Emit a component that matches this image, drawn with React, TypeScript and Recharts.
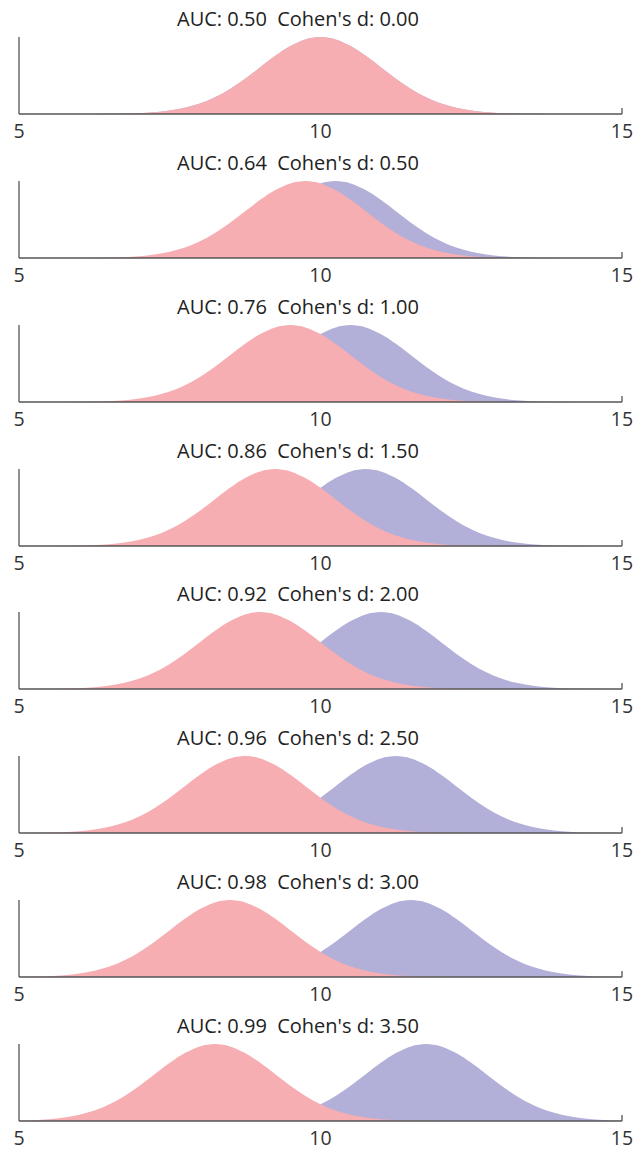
import { AreaChart, Area, XAxis, YAxis } from 'recharts';

// x grid shared by every panel
const xs = [
  5, 5.25, 5.5, 5.75, 6, 6.25, 6.5, 6.75, 7, 7.25, 7.5, 7.75, 8, 8.25, 8.5, 8.75, 9, 9.25, 9.5, 9.75,
  10, 10.25, 10.5, 10.75, 11, 11.25, 11.5, 11.75, 12, 12.25, 12.5, 12.75, 13, 13.25, 13.5, 13.75, 14,
  14.25, 14.5, 14.75, 15,
];

const aucLabels = ['0.50', '0.64', '0.76', '0.86', '0.92', '0.96', '0.98', '0.99'];
const dLabels = ['0.00', '0.50', '1.00', '1.50', '2.00', '2.50', '3.00', '3.50'];
const xTicks = [5, 10, 15];

// pink group (relative density, peak = 1)
const a0 = [0, 0, 0, 0, 0, 0.001, 0.002, 0.005, 0.011, 0.023, 0.044, 0.08, 0.135, 0.216, 0.325, 0.458, 0.607, 0.755, 0.882, 0.969, 1, 0.969, 0.882, 0.755, 0.607, 0.458, 0.325, 0.216, 0.135, 0.08, 0.044, 0.023, 0.011, 0.005, 0.002, 0.001, 0, 0, 0, 0, 0];
const a1 = [0, 0, 0, 0, 0.001, 0.002, 0.005, 0.011, 0.023, 0.044, 0.08, 0.135, 0.216, 0.325, 0.458, 0.607, 0.755, 0.882, 0.969, 1, 0.969, 0.882, 0.755, 0.607, 0.458, 0.325, 0.216, 0.135, 0.08, 0.044, 0.023, 0.011, 0.005, 0.002, 0.001, 0, 0, 0, 0, 0, 0];
const a2 = [0, 0, 0, 0.001, 0.002, 0.005, 0.011, 0.023, 0.044, 0.08, 0.135, 0.216, 0.325, 0.458, 0.607, 0.755, 0.882, 0.969, 1, 0.969, 0.882, 0.755, 0.607, 0.458, 0.325, 0.216, 0.135, 0.08, 0.044, 0.023, 0.011, 0.005, 0.002, 0.001, 0, 0, 0, 0, 0, 0, 0];
const a3 = [0, 0, 0.001, 0.002, 0.005, 0.011, 0.023, 0.044, 0.08, 0.135, 0.216, 0.325, 0.458, 0.607, 0.755, 0.882, 0.969, 1, 0.969, 0.882, 0.755, 0.607, 0.458, 0.325, 0.216, 0.135, 0.08, 0.044, 0.023, 0.011, 0.005, 0.002, 0.001, 0, 0, 0, 0, 0, 0, 0, 0];
const a4 = [0, 0.001, 0.002, 0.005, 0.011, 0.023, 0.044, 0.08, 0.135, 0.216, 0.325, 0.458, 0.607, 0.755, 0.882, 0.969, 1, 0.969, 0.882, 0.755, 0.607, 0.458, 0.325, 0.216, 0.135, 0.08, 0.044, 0.023, 0.011, 0.005, 0.002, 0.001, 0, 0, 0, 0, 0, 0, 0, 0, 0];
const a5 = [0.001, 0.002, 0.005, 0.011, 0.023, 0.044, 0.08, 0.135, 0.216, 0.325, 0.458, 0.607, 0.755, 0.882, 0.969, 1, 0.969, 0.882, 0.755, 0.607, 0.458, 0.325, 0.216, 0.135, 0.08, 0.044, 0.023, 0.011, 0.005, 0.002, 0.001, 0, 0, 0, 0, 0, 0, 0, 0, 0, 0];
const a6 = [0.002, 0.005, 0.011, 0.023, 0.044, 0.08, 0.135, 0.216, 0.325, 0.458, 0.607, 0.755, 0.882, 0.969, 1, 0.969, 0.882, 0.755, 0.607, 0.458, 0.325, 0.216, 0.135, 0.08, 0.044, 0.023, 0.011, 0.005, 0.002, 0.001, 0, 0, 0, 0, 0, 0, 0, 0, 0, 0, 0];
const a7 = [0.005, 0.011, 0.023, 0.044, 0.08, 0.135, 0.216, 0.325, 0.458, 0.607, 0.755, 0.882, 0.969, 1, 0.969, 0.882, 0.755, 0.607, 0.458, 0.325, 0.216, 0.135, 0.08, 0.044, 0.023, 0.011, 0.005, 0.002, 0.001, 0, 0, 0, 0, 0, 0, 0, 0, 0, 0, 0, 0];

// purple group
const b0 = [0, 0, 0, 0, 0, 0.001, 0.002, 0.005, 0.011, 0.023, 0.044, 0.08, 0.135, 0.216, 0.325, 0.458, 0.607, 0.755, 0.882, 0.969, 1, 0.969, 0.882, 0.755, 0.607, 0.458, 0.325, 0.216, 0.135, 0.08, 0.044, 0.023, 0.011, 0.005, 0.002, 0.001, 0, 0, 0, 0, 0];
const b1 = [0, 0, 0, 0, 0, 0, 0.001, 0.002, 0.005, 0.011, 0.023, 0.044, 0.08, 0.135, 0.216, 0.325, 0.458, 0.607, 0.755, 0.882, 0.969, 1, 0.969, 0.882, 0.755, 0.607, 0.458, 0.325, 0.216, 0.135, 0.08, 0.044, 0.023, 0.011, 0.005, 0.002, 0.001, 0, 0, 0, 0];
const b2 = [0, 0, 0, 0, 0, 0, 0, 0.001, 0.002, 0.005, 0.011, 0.023, 0.044, 0.08, 0.135, 0.216, 0.325, 0.458, 0.607, 0.755, 0.882, 0.969, 1, 0.969, 0.882, 0.755, 0.607, 0.458, 0.325, 0.216, 0.135, 0.08, 0.044, 0.023, 0.011, 0.005, 0.002, 0.001, 0, 0, 0];
const b3 = [0, 0, 0, 0, 0, 0, 0, 0, 0.001, 0.002, 0.005, 0.011, 0.023, 0.044, 0.08, 0.135, 0.216, 0.325, 0.458, 0.607, 0.755, 0.882, 0.969, 1, 0.969, 0.882, 0.755, 0.607, 0.458, 0.325, 0.216, 0.135, 0.08, 0.044, 0.023, 0.011, 0.005, 0.002, 0.001, 0, 0];
const b4 = [0, 0, 0, 0, 0, 0, 0, 0, 0, 0.001, 0.002, 0.005, 0.011, 0.023, 0.044, 0.08, 0.135, 0.216, 0.325, 0.458, 0.607, 0.755, 0.882, 0.969, 1, 0.969, 0.882, 0.755, 0.607, 0.458, 0.325, 0.216, 0.135, 0.08, 0.044, 0.023, 0.011, 0.005, 0.002, 0.001, 0];
const b5 = [0, 0, 0, 0, 0, 0, 0, 0, 0, 0, 0.001, 0.002, 0.005, 0.011, 0.023, 0.044, 0.08, 0.135, 0.216, 0.325, 0.458, 0.607, 0.755, 0.882, 0.969, 1, 0.969, 0.882, 0.755, 0.607, 0.458, 0.325, 0.216, 0.135, 0.08, 0.044, 0.023, 0.011, 0.005, 0.002, 0.001];
const b6 = [0, 0, 0, 0, 0, 0, 0, 0, 0, 0, 0, 0.001, 0.002, 0.005, 0.011, 0.023, 0.044, 0.08, 0.135, 0.216, 0.325, 0.458, 0.607, 0.755, 0.882, 0.969, 1, 0.969, 0.882, 0.755, 0.607, 0.458, 0.325, 0.216, 0.135, 0.08, 0.044, 0.023, 0.011, 0.005, 0.002];
const b7 = [0, 0, 0, 0, 0, 0, 0, 0, 0, 0, 0, 0, 0.001, 0.002, 0.005, 0.011, 0.023, 0.044, 0.08, 0.135, 0.216, 0.325, 0.458, 0.607, 0.755, 0.882, 0.969, 1, 0.969, 0.882, 0.755, 0.607, 0.458, 0.325, 0.216, 0.135, 0.08, 0.044, 0.023, 0.011, 0.005];

const groupA = [a0, a1, a2, a3, a4, a5, a6, a7];
const groupB = [b0, b1, b2, b3, b4, b5, b6, b7];

const PINK = '#F6AEB2';
const PURPLE = '#B2AFD8';
const AXIS = '#555555';
const FONT = '"Open Sans", sans-serif';

const PANEL_W = 634;
const PANEL_H = 144;
const PITCH = 143.85;
const OVERHANG = 10; // svg extends into the next panel so tick labels aren't clipped

function XTick(props: any) {
  const { x, y, payload } = props;
  return (
    <g>
      {payload.value === 15 && (
        <line x1={x} x2={x} y1={y - 8} y2={y - 14} stroke={AXIS} strokeWidth={1.3} />
      )}
      <text x={x} y={y + 16} textAnchor="middle" fill="#333" fontSize={19.5} fontFamily={FONT}>
        {payload.value}
      </text>
    </g>
  );
}

function Panel({ idx }: { idx: number }) {
  const data = xs.map((x, i) => ({ x, a: groupA[idx][i], b: groupB[idx][i] }));
  return (
    <div
      style={{
        position: 'absolute',
        top: Math.round(idx * PITCH),
        left: 0,
        width: PANEL_W,
        height: PANEL_H,
      }}
    >
      <div
        style={{
          position: 'absolute',
          top: 9,
          left: 0,
          width: 596,
          textAlign: 'center',
          fontFamily: FONT,
          fontSize: 20,
          lineHeight: '20px',
          color: '#222',
          whiteSpace: 'pre',
        }}
      >
        {`AUC: ${aucLabels[idx]}  Cohen's d: ${dLabels[idx]}`}
      </div>
      <div style={{ position: 'absolute', top: 0, left: 0 }}>
        <AreaChart
          width={PANEL_W}
          height={PANEL_H + OVERHANG}
          data={data}
          margin={{ top: 37, right: 12, bottom: 0, left: 18 }}
        >
          <XAxis
            dataKey="x"
            type="number"
            domain={[5, 15]}
            ticks={xTicks}
            height={30 + OVERHANG}
            axisLine={{ stroke: AXIS, strokeWidth: 1.3 }}
            tickLine={false}
            tick={<XTick />}
            interval={0}
          />
          <YAxis
            domain={[0, 1]}
            width={1}
            tick={false}
            tickLine={false}
            axisLine={{ stroke: AXIS, strokeWidth: 1.3 }}
          />
          <Area type="monotone" dataKey="b" stroke="none" fill={PURPLE} fillOpacity={1} isAnimationActive={false} />
          <Area type="monotone" dataKey="a" stroke="none" fill={PINK} fillOpacity={1} isAnimationActive={false} />
        </AreaChart>
      </div>
    </div>
  );
}

export default function App() {
  return (
    <div style={{ position: 'absolute', top: 0, left: 0, width: PANEL_W, height: 1151, background: '#fff' }}>
      {groupA.map((_, i) => (
        <Panel key={i} idx={i} />
      ))}
    </div>
  );
}
